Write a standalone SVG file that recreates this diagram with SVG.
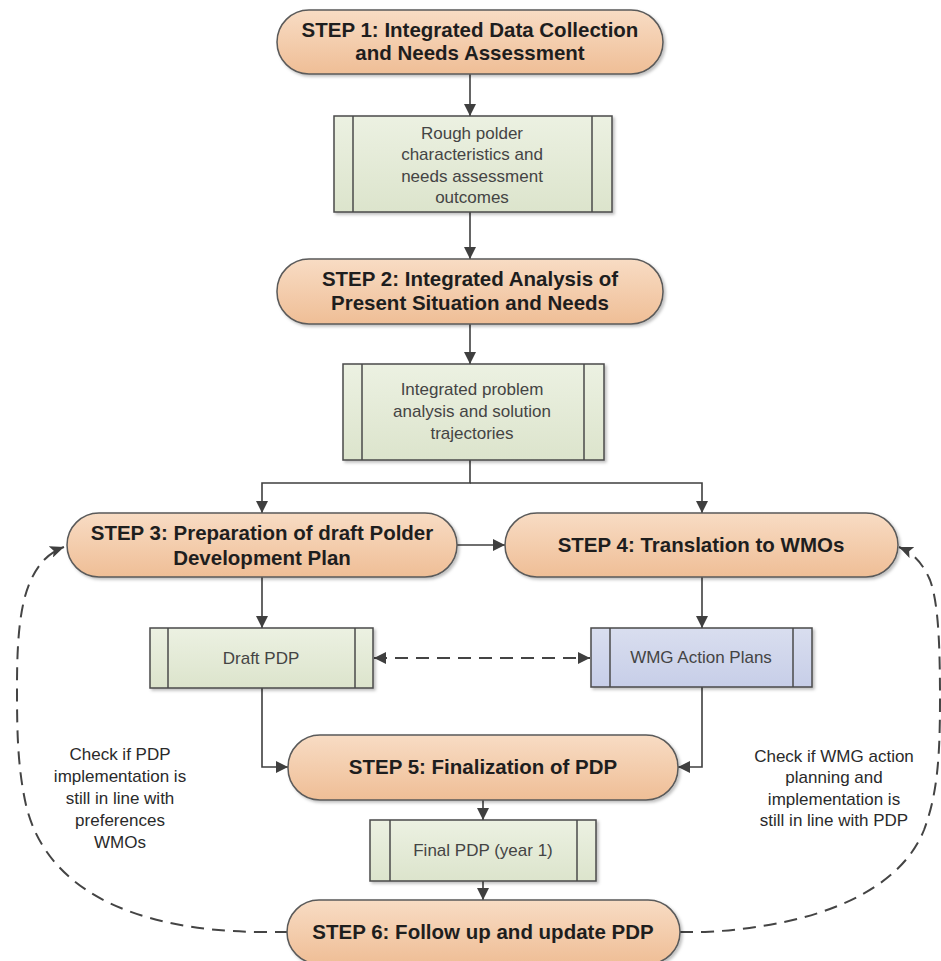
<svg xmlns="http://www.w3.org/2000/svg" width="941" height="961" viewBox="0 0 941 961">
<defs>
  <linearGradient id="gPeach" x1="0" y1="0" x2="0" y2="1">
    <stop offset="0" stop-color="#f8dcc4"/>
    <stop offset="1" stop-color="#efbe96"/>
  </linearGradient>
  <linearGradient id="gGreen" x1="0" y1="0" x2="0" y2="1">
    <stop offset="0" stop-color="#ecf1e2"/>
    <stop offset="1" stop-color="#dce4cc"/>
  </linearGradient>
  <linearGradient id="gBlue" x1="0" y1="0" x2="0" y2="1">
    <stop offset="0" stop-color="#d9deef"/>
    <stop offset="1" stop-color="#c7cee8"/>
  </linearGradient>
  <filter id="shadow" x="-10%" y="-20%" width="120%" height="150%">
    <feDropShadow dx="2" dy="2" stdDeviation="1.5" flood-color="#000" flood-opacity="0.25"/>
  </filter>
  <marker id="arr" viewBox="0 0 12 12" refX="12" refY="6" markerWidth="12" markerHeight="12" markerUnits="userSpaceOnUse" orient="auto-start-reverse">
    <path d="M0,0 L12,6 L0,12 Z" fill="#3f3f3f"/>
  </marker>
  <marker id="arrD" viewBox="0 0 14 12" refX="14" refY="6" markerWidth="14" markerHeight="12" markerUnits="userSpaceOnUse" orient="auto-start-reverse">
    <path d="M0,0 L14,6 L0,12 L3,6 Z" fill="#3f3f3f"/>
  </marker>
</defs>
<style>
  .pill { fill: url(#gPeach); stroke: #5a5a5a; stroke-width: 1.5; filter: url(#shadow); }
  .box { fill: url(#gGreen); stroke: #4a4a4a; stroke-width: 1.5; filter: url(#shadow); }
  .boxb { fill: url(#gBlue); stroke: #4a4a4a; stroke-width: 1.5; filter: url(#shadow); }
  .inner { stroke: #4a4a4a; stroke-width: 1.5; fill: none; }
  .step { font-family: "Liberation Sans", Arial, sans-serif; font-weight: bold; font-size: 20.5px; fill: #1e1e1e; text-anchor: middle; }
  .lbl { font-family: "Liberation Sans", Arial, sans-serif; font-size: 17px; fill: #444; text-anchor: middle; }
  .note { font-family: "Liberation Sans Narrow", "Liberation Sans", Arial, sans-serif; font-size: 17px; fill: #2a2a2a; text-anchor: middle; }
  .conn { stroke: #3f3f3f; stroke-width: 1.6; fill: none; }
  .dash { stroke: #444; stroke-width: 2; fill: none; stroke-dasharray: 13 8; }
</style>

<g id="connectors">
  <path class="conn" d="M470,74 L470,116" marker-end="url(#arr)"/>
  <path class="conn" d="M470,212 L470,259" marker-end="url(#arr)"/>
  <path class="conn" d="M470,324 L470,364" marker-end="url(#arr)"/>
  <path class="conn" d="M470,460 L470,483 L262,483 L262,513" marker-end="url(#arr)"/>
  <path class="conn" d="M470,483 L702,483 L702,513" marker-end="url(#arr)"/>
  <path class="conn" d="M457,545 L505,545" marker-end="url(#arr)"/>
  <path class="conn" d="M262,577 L262,628" marker-end="url(#arr)"/>
  <path class="conn" d="M702,577 L702,628" marker-end="url(#arr)"/>
  <path class="dash" d="M374,658 L590,658" marker-start="url(#arr)" marker-end="url(#arr)"/>
  <path class="conn" d="M262,688 L262,767 L288,767" marker-end="url(#arr)"/>
  <path class="conn" d="M702,687 L702,767 L678,767" marker-end="url(#arr)"/>
  <path class="conn" d="M483,800 L483,820" marker-end="url(#arr)"/>
  <path class="conn" d="M483,881 L483,900" marker-end="url(#arr)"/>
  <path class="dash" d="M288,932 L258,932 C125,930 45,885 26,805 C17,765 17,725 17,685 C17,640 20,605 30,582 C38,564 48,553 64,547" marker-end="url(#arrD)"/>
  <path class="dash" d="M680,932 L705,932 C820,926 900,890 924,830 C937,795 940,760 940,700 C940,640 938,602 930,580 C922,562 913,553 899,547" marker-end="url(#arrD)"/>
</g>

<g id="step1">
  <rect class="pill" x="277" y="10" width="386" height="64" rx="32" ry="32"/>
  <text class="step" x="470" y="37">STEP 1: Integrated Data Collection</text>
  <text class="step" x="470" y="60">and Needs Assessment</text>
</g>

<g id="box1">
  <rect class="box" x="334" y="116" width="278" height="96"/>
  <line class="inner" x1="353" y1="116" x2="353" y2="212"/>
  <line class="inner" x1="592" y1="116" x2="592" y2="212"/>
  <text class="lbl" x="472" y="139">Rough polder</text>
  <text class="lbl" x="472" y="160">characteristics and</text>
  <text class="lbl" x="472" y="182">needs assessment</text>
  <text class="lbl" x="472" y="203">outcomes</text>
</g>

<g id="step2">
  <rect class="pill" x="277" y="259" width="386" height="65" rx="32" ry="32"/>
  <text class="step" x="470" y="286">STEP 2: Integrated Analysis of</text>
  <text class="step" x="470" y="310">Present Situation and Needs</text>
</g>

<g id="box2">
  <rect class="box" x="343" y="364" width="261" height="96"/>
  <line class="inner" x1="362" y1="364" x2="362" y2="460"/>
  <line class="inner" x1="584" y1="364" x2="584" y2="460"/>
  <text class="lbl" x="472" y="395">Integrated problem</text>
  <text class="lbl" x="472" y="417">analysis and solution</text>
  <text class="lbl" x="472" y="439">trajectories</text>
</g>

<g id="step3">
  <rect class="pill" x="67" y="513" width="390" height="64" rx="32" ry="32"/>
  <text class="step" x="262" y="540">STEP 3: Preparation of draft Polder</text>
  <text class="step" x="262" y="565">Development Plan</text>
</g>

<g id="step4">
  <rect class="pill" x="505" y="513" width="393" height="64" rx="32" ry="32"/>
  <text class="step" x="701" y="552">STEP 4: Translation to WMOs</text>
</g>

<g id="draftpdp">
  <rect class="box" x="150" y="628" width="223" height="60"/>
  <line class="inner" x1="168" y1="628" x2="168" y2="688"/>
  <line class="inner" x1="355" y1="628" x2="355" y2="688"/>
  <text class="lbl" x="261" y="664">Draft PDP</text>
</g>

<g id="wmgplans">
  <rect class="boxb" x="591" y="628" width="221" height="59"/>
  <line class="inner" x1="610" y1="628" x2="610" y2="687"/>
  <line class="inner" x1="793" y1="628" x2="793" y2="687"/>
  <text class="lbl" x="701" y="663">WMG Action Plans</text>
</g>

<g id="step5">
  <rect class="pill" x="288" y="735" width="390" height="65" rx="32" ry="32"/>
  <text class="step" x="483" y="774">STEP 5: Finalization of PDP</text>
</g>

<g id="finalpdp">
  <rect class="box" x="370" y="820" width="226" height="61"/>
  <line class="inner" x1="390" y1="820" x2="390" y2="881"/>
  <line class="inner" x1="577" y1="820" x2="577" y2="881"/>
  <text class="lbl" x="483" y="856">Final PDP (year 1)</text>
</g>

<g id="step6">
  <rect class="pill" x="287" y="900" width="393" height="64" rx="32" ry="32"/>
  <text class="step" x="483" y="939">STEP 6: Follow up and update PDP</text>
</g>

<g id="note-left">
  <text class="note" x="120" y="760">Check if PDP</text>
  <text class="note" x="120" y="782">implementation is</text>
  <text class="note" x="120" y="804">still in line with</text>
  <text class="note" x="120" y="826">preferences</text>
  <text class="note" x="120" y="848">WMOs</text>
</g>

<g id="note-right">
  <text class="note" x="834" y="762">Check if WMG action</text>
  <text class="note" x="834" y="783">planning and</text>
  <text class="note" x="834" y="805">implementation is</text>
  <text class="note" x="834" y="826">still in line with PDP</text>
</g>
</svg>
